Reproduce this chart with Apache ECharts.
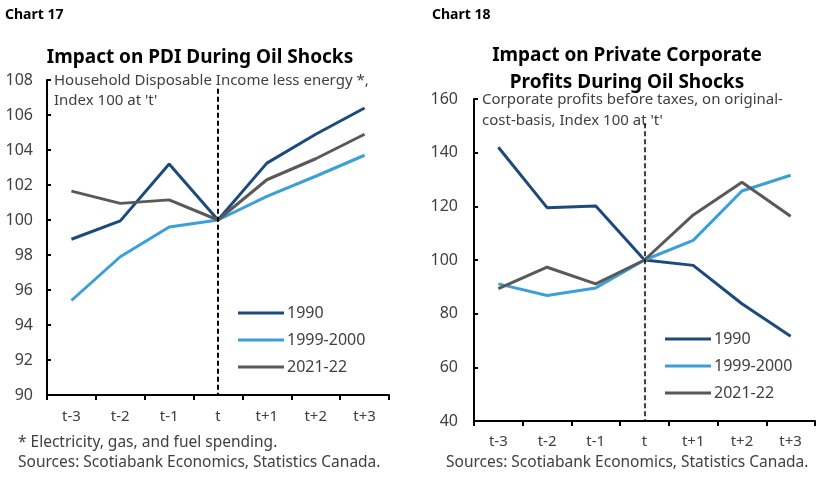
<!DOCTYPE html>
<html><head><meta charset="utf-8">
<script src="https://cdn.jsdelivr.net/npm/echarts@6/dist/echarts.min.js"></script>
<style>html,body{margin:0;padding:0;background:#fff}#c{width:828px;height:483px}</style>
</head><body><div id="c"></div>
<script>
const categories = ['t-3','t-2','t-1','t','t+1','t+2','t+3'];
const seriesNames = ['1990','1999-2000','2021-22'];
// Chart 17: PDI less energy, index 100 at t
const pdi1990 = [98.9, 99.95, 103.2, 100, 103.25, 104.9, 106.4];
const pdi1999 = [95.4, 97.9, 99.6, 100, 101.35, 102.5, 103.7];
const pdi2021 = [101.65, 100.95, 101.15, 100, 102.3, 103.5, 104.9];
// Chart 18: corporate profits, index 100 at t
const cp1990 = [142, 119.5, 120.1, 100, 98, 83.7, 71.6];
const cp1999 = [91.1, 86.8, 89.6, 100, 107.3, 125.7, 131.6];
const cp2021 = [89.3, 97.3, 91.1, 100, 116.8, 129, 116.3];
const yTicks17 = {min: 90, max: 108, interval: 2};
const yTicks18 = {min: 40, max: 160, interval: 20};

const colors = ['#1d4a7c', '#3b9fd8', '#595959'];
const FONT = 'Noto Sans';
const txt = '#404040';

function xAxis(grid, margin) {
  return {
    type: 'category', data: categories, gridIndex: grid, boundaryGap: true,
    axisLine: {lineStyle: {color: '#000', width: 2}},
    axisTick: {show: true, inside: false, length: 5, lineStyle: {color: '#000', width: 2}},
    axisLabel: {color: txt, fontSize: 15, fontFamily: FONT, margin: margin},
    splitLine: {show: false}
  };
}
function yAxis(grid, t, margin) {
  return {
    type: 'value', gridIndex: grid, min: t.min, max: t.max, interval: t.interval,
    axisLine: {show: true, lineStyle: {color: '#000', width: 2}},
    axisTick: {show: true, inside: true, length: 4, lineStyle: {color: '#000', width: 2}},
    axisLabel: {color: txt, fontSize: 16, fontFamily: FONT, margin: margin},
    splitLine: {show: false}
  };
}
function line(name, data, i, gi, mark) {
  const s = {
    name: name, type: 'line', data: data, xAxisIndex: gi, yAxisIndex: gi,
    symbol: 'none', smooth: false, animation: false,
    lineStyle: {color: colors[i], width: 3}, itemStyle: {color: colors[i]}
  };
  if (mark) {
    s.markLine = {
      silent: true, symbol: 'none', animation: false, label: {show: false},
      lineStyle: {color: '#000', type: [5, 3], width: mark.w},
      data: [[{coord: ['t', mark.top]}, {coord: ['t', mark.bottom]}]]
    };
  }
  return s;
}

const chart = echarts.init(document.getElementById('c'), null, {renderer: 'canvas'});
chart.setOption({
  backgroundColor: '#fff',
  animation: false,
  grid: [
    {left: 47, right: 439, top: 80, bottom: 88, containLabel: false},
    {left: 474, right: 13, top: 99, bottom: 62, containLabel: false}
  ],
  xAxis: [xAxis(0, 14), xAxis(1, 13)],
  yAxis: [yAxis(0, yTicks17, 14), yAxis(1, yTicks18, 16)],
  legend: [
    {left: 233, top: 300, orient: 'vertical', itemGap: 11, itemWidth: 46, itemHeight: 3, icon: 'rect',
     data: seriesNames, textStyle: {color: txt, fontSize: 16, fontFamily: FONT, padding: [0, 0, 0, -2]}},
    {left: 660, top: 326, orient: 'vertical', itemGap: 11, itemWidth: 46, itemHeight: 3, icon: 'rect',
     data: seriesNames, textStyle: {color: txt, fontSize: 16, fontFamily: FONT, padding: [0, 0, 0, -2]}}
  ],
  graphic: [
    {type: 'text', left: 5, top: 8, style: {text: 'Chart 17', font: 'bold 14px "Noto Sans"', fill: '#000'}},
    {type: 'text', left: 432, top: 8, style: {text: 'Chart 18', font: 'bold 14px "Noto Sans"', fill: '#000'}},
    {type: 'text', x: 200, y: 48, style: {text: 'Impact on PDI During Oil Shocks', font: 'bold 19px "Noto Sans"', fill: '#000', align: 'center', verticalAlign: 'top'}},
    {type: 'text', x: 627, y: 46, style: {text: 'Impact on Private Corporate', font: 'bold 19px "Noto Sans"', fill: '#000', align: 'center', verticalAlign: 'top'}},
    {type: 'text', x: 627, y: 73, style: {text: 'Profits During Oil Shocks', font: 'bold 19px "Noto Sans"', fill: '#000', align: 'center', verticalAlign: 'top'}},
    {type: 'text', x: 54, y: 71, style: {text: "Household Disposable Income less energy *,\nIndex 100 at 't'", font: '15px "Noto Sans"', fill: txt, lineHeight: 20, verticalAlign: 'top'}},
    {type: 'text', x: 482, y: 89, style: {text: "Corporate profits before taxes, on original-\ncost-basis, Index 100 at 't'", font: '15px "Noto Sans"', fill: txt, lineHeight: 21, verticalAlign: 'top'}},
    {type: 'text', x: 18, y: 443, style: {text: '* Electricity, gas, and fuel spending.', font: '15.5px "Noto Sans"', fill: txt, verticalAlign: 'middle'}},
    {type: 'text', x: 18, y: 463, style: {text: 'Sources: Scotiabank Economics, Statistics Canada.', font: '15.5px "Noto Sans"', fill: txt, verticalAlign: 'middle'}},
    {type: 'text', x: 446, y: 463, style: {text: 'Sources: Scotiabank Economics, Statistics Canada.', font: '15.5px "Noto Sans"', fill: txt, verticalAlign: 'middle'}}
  ],
  series: [
    line(seriesNames[0], pdi1990, 0, 0, {top: 107.5, bottom: 90, w: 2}),
    line(seriesNames[1], pdi1999, 1, 0),
    line(seriesNames[2], pdi2021, 2, 0),
    line(seriesNames[0], cp1990, 0, 1, {top: 151, bottom: 40, w: 1.5}),
    line(seriesNames[1], cp1999, 1, 1),
    line(seriesNames[2], cp2021, 2, 1)
  ]
});
</script></body></html>
